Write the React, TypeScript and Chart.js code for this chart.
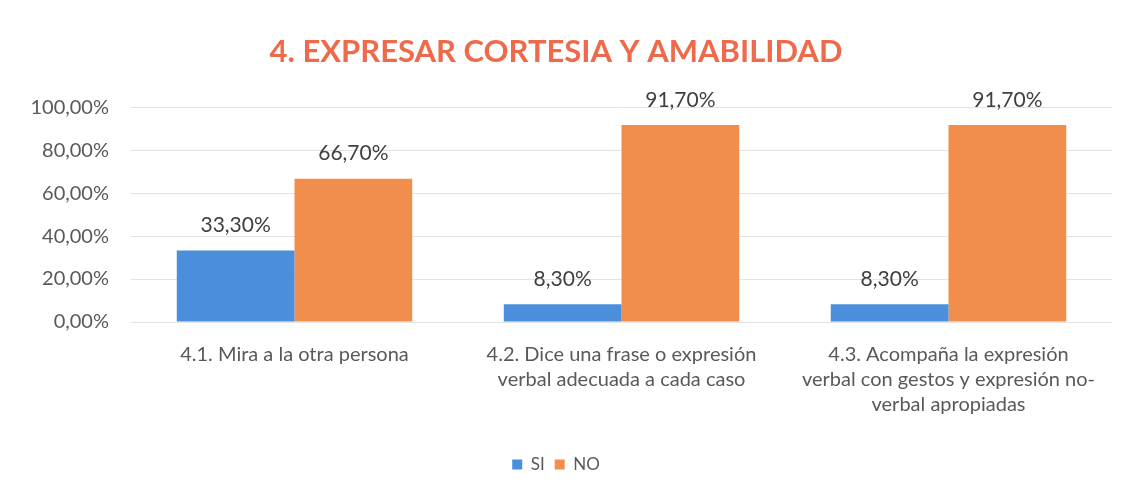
import React, { useEffect, useRef } from "react";
import { Chart, registerables } from "chart.js";

Chart.register(...registerables);

const categories: string[][] = [
  ["4.1. Mira a la otra persona"],
  ["4.2. Dice una frase o expresión", "verbal adecuada a cada caso"],
  ["4.3. Acompaña la expresión", "verbal con gestos y expresión no-", "verbal apropiadas"],
];
const siValues = [33.3, 8.3, 8.3];
const noValues = [66.7, 91.7, 91.7];
const yTicks = [0, 20, 40, 60, 80, 100];

const FONT = "Lato, 'Open Sans', sans-serif";
const fmt = (v: number) => v.toFixed(2).replace(".", ",") + "%";

const dataLabels = {
  id: "dataLabels",
  afterDatasetsDraw(chart: any) {
    const ctx = chart.ctx;
    ctx.save();
    ctx.font = `21px ${FONT}`;
    ctx.fillStyle = "#404040";
    ctx.textAlign = "center";
    ctx.textBaseline = "middle";
    chart.data.datasets.forEach((ds: any, i: number) => {
      const meta = chart.getDatasetMeta(i);
      meta.data.forEach((bar: any, j: number) => {
        ctx.fillText(fmt(ds.data[j]), bar.x, bar.y - 25);
      });
    });
    ctx.restore();
  },
};

export default function App() {
  const ref = useRef<HTMLCanvasElement>(null);
  useEffect(() => {
    if (!ref.current) return;
    const chart = new Chart(ref.current, {
      type: "bar",
      data: {
        labels: categories,
        datasets: [
          { label: "SI", data: siValues, backgroundColor: "#4B8EDB" },
          { label: "NO", data: noValues, backgroundColor: "#F28E4B" },
        ],
      },
      options: {
        animation: false,
        responsive: false,
        maintainAspectRatio: false,
        layout: { padding: { left: 0, right: 16, top: 0, bottom: 17 } },
        datasets: { bar: { categoryPercentage: 0.72, barPercentage: 1.0 } },
        plugins: {
          title: {
            display: true,
            text: "4. EXPRESAR CORTESIA Y AMABILIDAD",
            color: "#EE6A4B",
            font: { family: FONT, size: 31, weight: "bold" },
            padding: { top: 33, bottom: 37 },
          },
          legend: {
            position: "bottom",
            labels: {
              boxWidth: 10,
              boxHeight: 10,
              color: "#595959",
              font: { family: FONT, size: 17 },
              padding: 10,
            },
          },
          tooltip: { enabled: false },
        },
        scales: {
          x: {
            grid: { display: false, drawTicks: false },
            border: { display: false },
            ticks: {
              color: "#595959",
              font: { family: FONT, size: 20, lineHeight: 1.25 },
              padding: 20,
              maxRotation: 0,
              autoSkip: false,
            },
            afterFit: (s: any) => { s.height = 124; },
          },
          y: {
            min: 0,
            max: 100,
            afterBuildTicks: (s: any) => { s.ticks = yTicks.map((v) => ({ value: v })); },
            grid: { color: "#E3E3E3", drawTicks: false },
            border: { display: false },
            ticks: {
              color: "#595959",
              font: { family: FONT, size: 20 },
              padding: 22,
              callback: (v: any) => fmt(Number(v)),
            },
            afterFit: (s: any) => { s.width = 131; },
          },
        },
      },
      plugins: [dataLabels],
    } as any);
    return () => chart.destroy();
  }, []);
  return (
    <div style={{ position: "fixed", left: 0, top: 0, width: 1128, height: 500, background: "#fff" }}>
      <canvas ref={ref} width={1128} height={500} />
    </div>
  );
}
